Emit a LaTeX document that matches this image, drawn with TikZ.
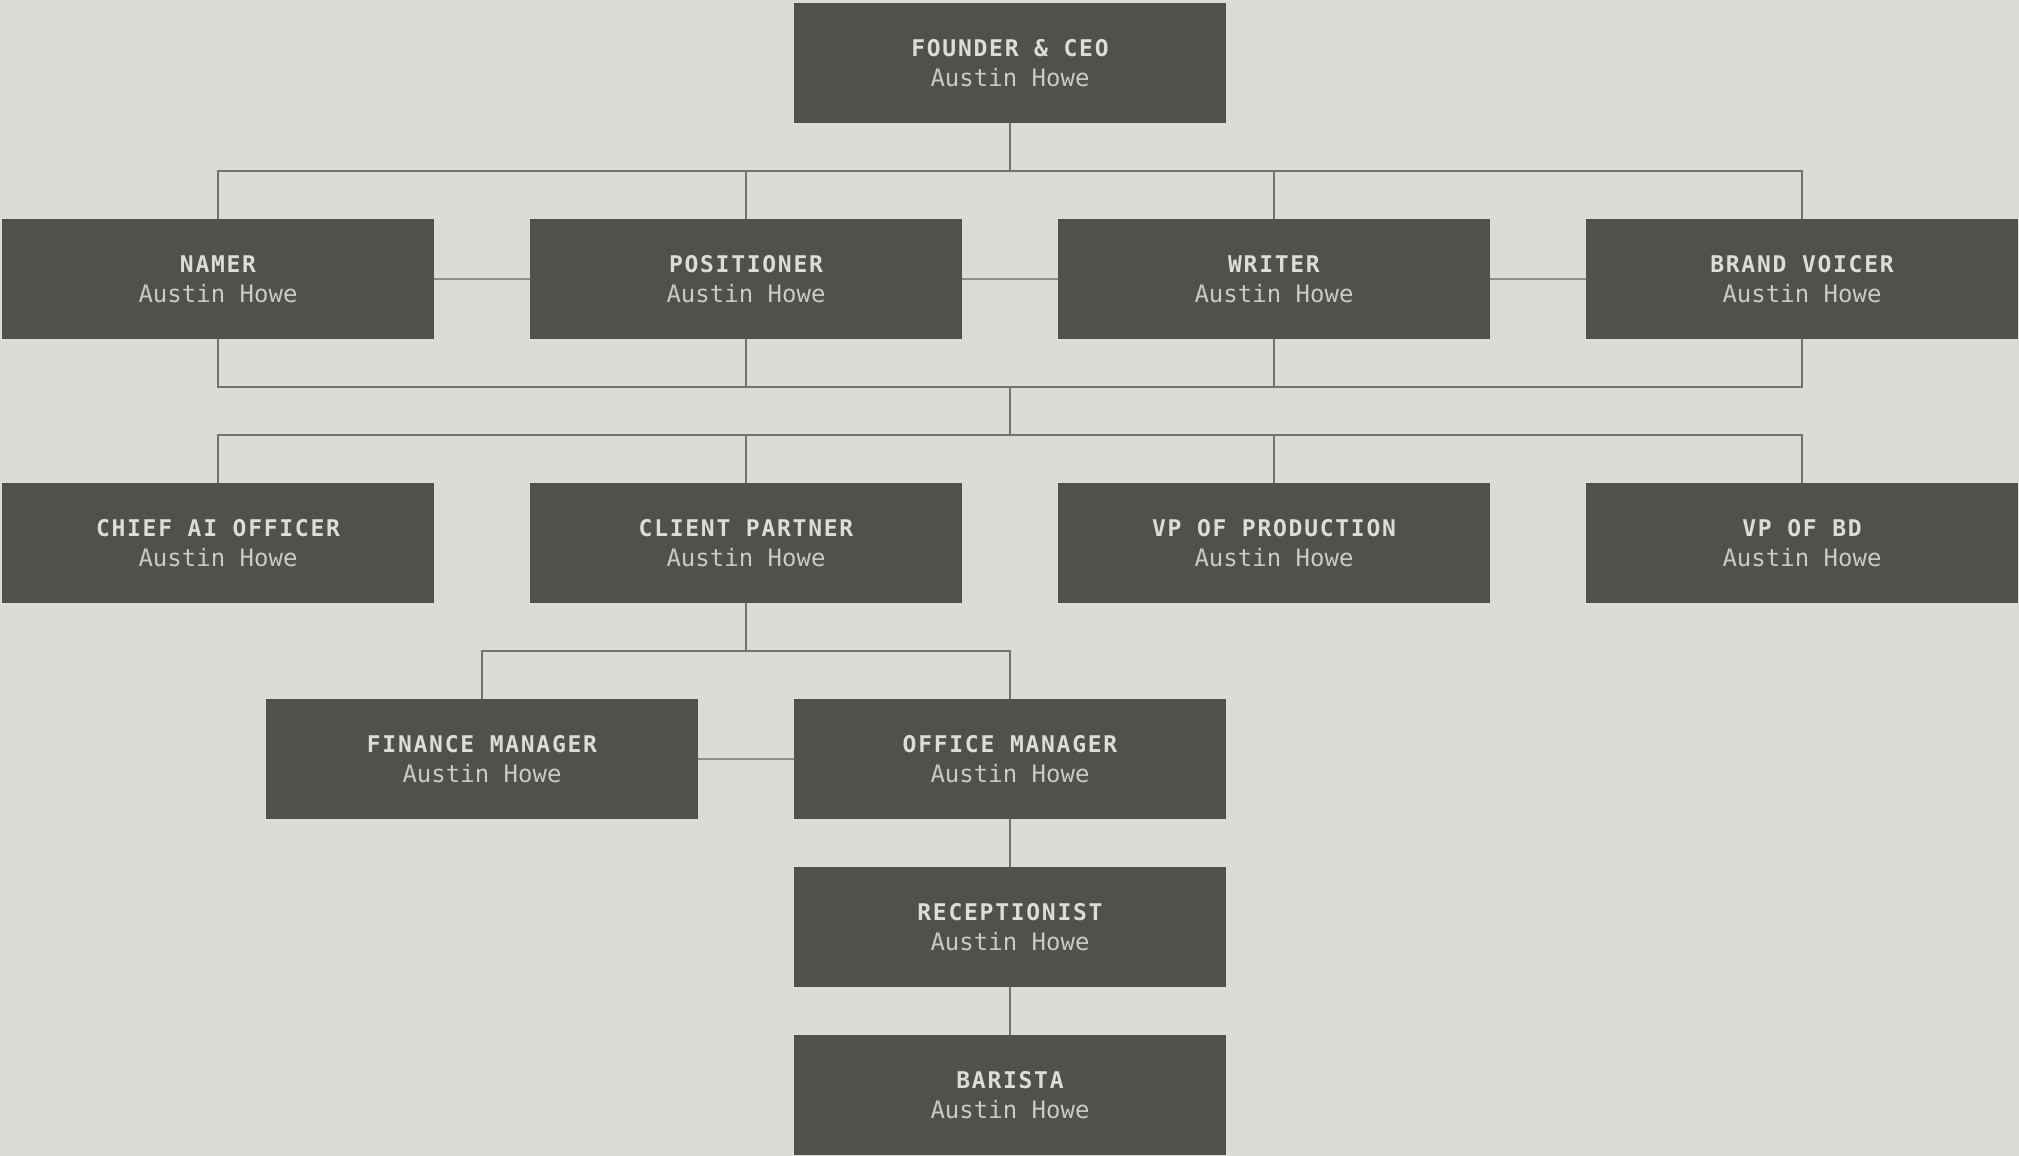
\documentclass[tikz,border=0pt]{standalone}
\usepackage{fontspec}
\setmonofont{DejaVu Sans Mono}
\newfontfamily\titlefnt{DejaVu Sans Mono}[LetterSpace=7.5]
\newfontfamily\namefnt{DejaVu Sans Mono}
\definecolor{bg}{HTML}{DCDBD7}
\definecolor{boxfill}{HTML}{52504B}
\definecolor{titlecol}{HTML}{DEDCD6}
\definecolor{namecol}{HTML}{CBC9C3}
\definecolor{buscol}{HTML}{74736F}
\definecolor{sibcol}{HTML}{8E8D89}
\newcommand{\orgtext}[1]{{\titlefnt\bfseries\fontsize{11.5}{15}\selectfont\color{titlecol}#1}\\{\namefnt\fontsize{12}{15}\selectfont\color{namecol}Austin Howe}}
\tikzset{
  orgbox/.style={fill=boxfill, draw=none, minimum width=216pt, minimum height=60pt, inner sep=0pt, align=center, font=\fontsize{12}{15}\selectfont},
  busline/.style={draw=buscol, line width=1pt},
  sibline/.style={draw=sibcol, line width=0.9pt}
}
\begin{document}
\begin{tikzpicture}[x=0.5pt, y=-0.5pt]
\path[fill=bg] (0,0) rectangle (2019,1156);
\useasboundingbox (0,0) rectangle (2019,1156);
% nodes
\node[orgbox] (ceo) at (1010,63) {\orgtext{FOUNDER \& CEO}};
\node[orgbox] (namer) at (218,279) {\orgtext{NAMER}};
\node[orgbox] (pos) at (746,279) {\orgtext{POSITIONER}};
\node[orgbox] (writer) at (1274,279) {\orgtext{WRITER}};
\node[orgbox] (brand) at (1802,279) {\orgtext{BRAND VOICER}};
\node[orgbox] (cai) at (218,543) {\orgtext{CHIEF AI OFFICER}};
\node[orgbox] (client) at (746,543) {\orgtext{CLIENT PARTNER}};
\node[orgbox] (vpprod) at (1274,543) {\orgtext{VP OF PRODUCTION}};
\node[orgbox] (vpbd) at (1802,543) {\orgtext{VP OF BD}};
\node[orgbox] (fin) at (482,759) {\orgtext{FINANCE MANAGER}};
\node[orgbox] (office) at (1010,759) {\orgtext{OFFICE MANAGER}};
\node[orgbox] (recep) at (1010,927) {\orgtext{RECEPTIONIST}};
\node[orgbox] (barista) at (1010,1095) {\orgtext{BARISTA}};
\coordinate (hubtop) at (1010,387);
\coordinate (hubbot) at (1010,435);
% connectors: CEO to row 2
\draw[busline] (ceo.south) -- ++(0,48);
\draw[busline] (namer.north) -- ++(0,-48) -| (brand.north);
\draw[busline] (pos.north) -- ++(0,-48);
\draw[busline] (writer.north) -- ++(0,-48);
% siblings row 2
\draw[sibline] (namer.east) -- (pos.west);
\draw[sibline] (pos.east) -- (writer.west);
\draw[sibline] (writer.east) -- (brand.west);
% row 2 to row 3
\draw[busline] (namer.south) -- ++(0,48) -| (brand.south);
\draw[busline] (pos.south) -- ++(0,48);
\draw[busline] (writer.south) -- ++(0,48);
\draw[busline] (hubtop) -- (hubbot);
\draw[busline] (cai.north) -- ++(0,-48) -| (vpbd.north);
\draw[busline] (client.north) -- ++(0,-48);
\draw[busline] (vpprod.north) -- ++(0,-48);
% client partner to row 4
\draw[busline] (client.south) -- ++(0,48);
\draw[busline] (fin.north) -- ++(0,-48) -| (office.north);
\draw[sibline] (fin.east) -- (office.west);
% chain
\draw[busline] (office.south) -- (recep.north);
\draw[busline] (recep.south) -- (barista.north);
\end{tikzpicture}
\end{document}
